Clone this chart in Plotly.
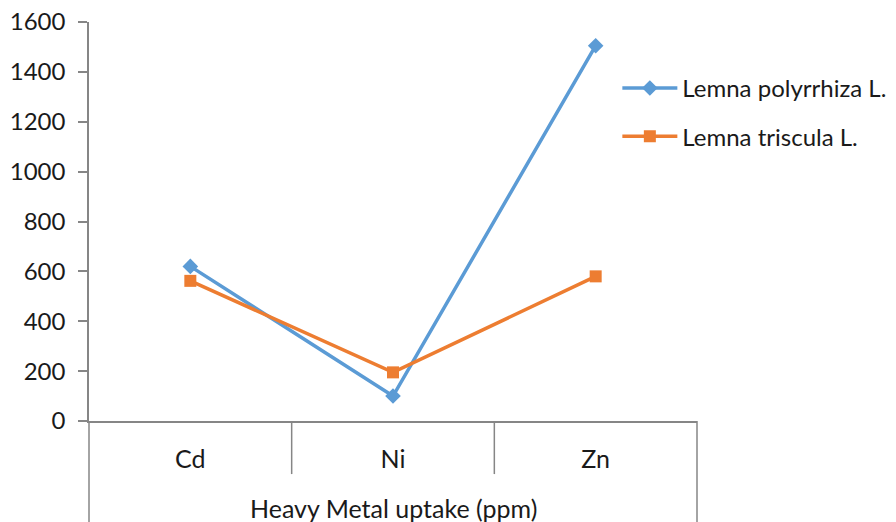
import plotly.graph_objects as go

# Heavy metal uptake (ppm) by two Lemna species
metals = ["Cd", "Ni", "Zn"]
polyrrhiza = [620, 100, 1505]
triscula = [562, 195, 580]
y_ticks = [0, 200, 400, 600, 800, 1000, 1200, 1400, 1600]
x_title = "Heavy Metal uptake (ppm)"

BLUE = "#5B9BD5"
ORANGE = "#ED7D31"
AXIS = "#868686"
FAMILY = "Lato, 'Open Sans', sans-serif"
TEXT = "#1a1a1a"
TICK_FONT = dict(family=FAMILY, size=24, color=TEXT)
CAT_FONT = dict(family=FAMILY, size=25, color=TEXT)
LEGEND_FONT = dict(family=FAMILY, size=24, color=TEXT)

fig = go.Figure()
fig.add_trace(go.Scatter(
    x=metals, y=polyrrhiza, mode="lines+markers", name="Lemna polyrrhiza L.",
    legendgroup="a",
    line=dict(color=BLUE, width=3.5),
    marker=dict(symbol="diamond", size=12, color=BLUE),
))
fig.add_trace(go.Scatter(
    x=metals, y=triscula, mode="lines+markers", name="Lemna triscula L.",
    legendgroup="b",
    line=dict(color=ORANGE, width=3.5),
    marker=dict(symbol="square", size=12, color=ORANGE),
))

# category separators and outer frame lines below the axis
shapes = []
for i in range(len(metals) - 1):
    shapes.append(dict(type="line", xref="x", yref="paper",
                       x0=i + 0.5, x1=i + 0.5, y0=0, y1=-0.133,
                       line=dict(color=AXIS, width=1.5)))
for xd in (0, 1):
    shapes.append(dict(type="line", xref="x domain", yref="paper",
                       x0=xd, x1=xd, y0=0, y1=-0.26,
                       line=dict(color=AXIS, width=1.5)))

fig.update_layout(
    width=896, height=522,
    margin=dict(l=89, r=199, t=22, b=101, autoexpand=False),
    paper_bgcolor="white", plot_bgcolor="white",
    font=TICK_FONT,
    showlegend=True,
    legend=dict(x=0.869, y=0.89, xanchor="left", yanchor="top",
                bgcolor="rgba(0,0,0,0)", tracegroupgap=14,
                itemwidth=55, font=LEGEND_FONT),
    shapes=shapes,
    annotations=[dict(text=x_title, xref="x domain", yref="paper",
                      x=0.5, y=-0.218, xanchor="center", yanchor="middle",
                      showarrow=False, font=CAT_FONT)],
    xaxis=dict(
        type="category", range=[-0.5, 2.5], automargin=False,
        showline=True, linecolor=AXIS, linewidth=1.5,
        showgrid=False, zeroline=False, ticks="",
        tickfont=CAT_FONT, ticklabelstandoff=15,
    ),
    yaxis=dict(
        range=[0, 1600], tickvals=y_ticks, automargin=False,
        showline=True, linecolor=AXIS, linewidth=1.5,
        ticks="outside", ticklen=9, tickcolor=AXIS, tickwidth=1.5,
        showgrid=False, zeroline=False,
        tickfont=TICK_FONT, ticklabelstandoff=8,
    ),
)

fig.write_html("out.html")
